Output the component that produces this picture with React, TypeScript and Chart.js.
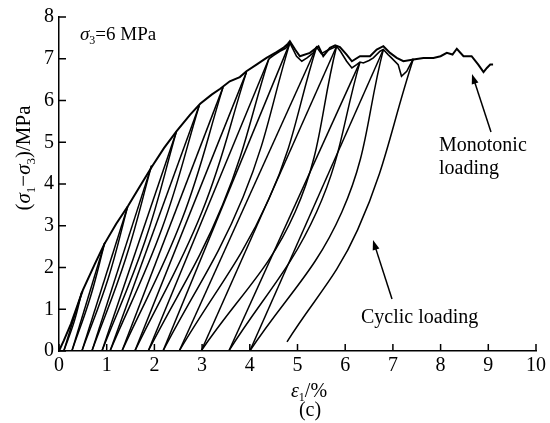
import React, { useEffect, useRef } from "react";
import { Chart, registerables } from "chart.js";

Chart.register(...registerables);

// x ticks and y ticks
const xTicks = [0, 1, 2, 3, 4, 5, 6, 7, 8, 9, 10];
const yTicks = [0, 1, 2, 3, 4, 5, 6, 7, 8];

// Monotonic loading curve (strain %, deviatoric stress MPa)
const monoStrain = [0, 0.1, 0.25, 0.5, 0.75, 0.95, 1.2, 1.45, 1.7, 1.95, 2.2, 2.47, 2.75, 2.96, 3.2, 3.38, 3.58, 3.79, 3.93, 4.14, 4.35, 4.56, 4.7, 4.8, 4.84, 4.95, 5.05, 5.26, 5.44, 5.54, 5.68, 5.79, 5.89, 6.03, 6.14, 6.31, 6.52, 6.66, 6.8, 6.94, 7.08, 7.22, 7.43, 7.64, 7.85, 8.0, 8.13, 8.25, 8.34, 8.48, 8.65, 8.79, 8.9, 8.97, 9.04, 9.1];
const monoStress = [0, 0.25, 0.65, 1.46, 2.08, 2.56, 3.05, 3.48, 3.95, 4.42, 4.86, 5.27, 5.66, 5.92, 6.14, 6.28, 6.46, 6.56, 6.7, 6.86, 7.02, 7.16, 7.26, 7.36, 7.42, 7.22, 7.06, 7.14, 7.3, 7.06, 7.26, 7.32, 7.28, 7.1, 6.94, 7.06, 7.06, 7.22, 7.3, 7.14, 7.02, 6.94, 6.98, 7.02, 7.02, 7.06, 7.14, 7.1, 7.24, 7.06, 7.06, 6.86, 6.68, 6.78, 6.86, 6.86];

// Cyclic loading envelope where it departs from the monotonic curve
const cycEnvStrain = [4.4, 4.5, 4.63, 4.75, 4.84, 4.98, 5.09, 5.2, 5.33, 5.4, 5.5, 5.62, 5.75, 5.82, 5.9, 6.03, 6.14, 6.24, 6.31, 6.38, 6.5, 6.59, 6.73, 6.8, 6.9, 6.97, 7.11, 7.18, 7.29, 7.43];
const cycEnvStress = [7.0, 7.08, 7.18, 7.25, 7.38, 7.06, 6.94, 7.02, 7.14, 7.28, 7.12, 7.2, 7.26, 7.3, 7.18, 6.94, 6.78, 6.86, 6.92, 6.9, 6.96, 7.02, 7.18, 7.22, 7.1, 7.02, 6.86, 6.58, 6.7, 7.0];

// Cycles: peak points, residual points, and a mid point on each unloading curve
const peakStrain = [0.48, 0.96, 1.44, 1.94, 2.46, 2.94, 3.44, 3.93, 4.4, 4.84, 5.4, 5.82, 6.31, 6.8, 7.43];
const peakStress = [1.42, 2.6, 3.46, 4.44, 5.25, 5.88, 6.32, 6.68, 7.0, 7.38, 7.28, 7.3, 6.92, 7.22, 7.0];
const residualStrain = [0.1, 0.27, 0.48, 0.69, 0.9, 1.07, 1.32, 1.59, 1.87, 2.18, 2.52, 2.98, 3.56, 4.0, 4.78];
const residualStress = [0, 0, 0, 0, 0, 0, 0, 0, 0, 0, 0, 0, 0, 0, 0.22];
const unloadMidStrain = [0.32, 0.66, 1.03, 1.4, 1.8, 2.16, 2.58, 3.0, 3.43, 3.86, 4.4, 4.95, 5.4, 5.93, 6.26];
const unloadMidStress = [0.71, 1.3, 1.73, 2.22, 2.62, 2.94, 3.16, 3.34, 3.5, 3.69, 3.64, 3.33, 3.33, 3.33, 2.9];

const FONT = '"Liberation Serif", "Times New Roman", serif';

type Part = { t: string; i?: boolean; s?: boolean };

function drawRich(ctx: CanvasRenderingContext2D, parts: Part[], x: number, y: number, size: number, align: "left" | "center") {
  const fontFor = (p: Part) => `${p.i ? "italic " : ""}${p.s ? Math.round(size * 0.62) : size}px ${FONT}`;
  let total = 0;
  for (const p of parts) {
    ctx.font = fontFor(p);
    total += ctx.measureText(p.t).width;
  }
  let cx = align === "center" ? x - total / 2 : x;
  ctx.textAlign = "left";
  ctx.textBaseline = "alphabetic";
  for (const p of parts) {
    ctx.font = fontFor(p);
    ctx.fillText(p.t, cx, y + (p.s ? size * 0.22 : 0));
    cx += ctx.measureText(p.t).width;
  }
}

function arrow(ctx: CanvasRenderingContext2D, x1: number, y1: number, x2: number, y2: number) {
  const ang = Math.atan2(y2 - y1, x2 - x1);
  const len = 10;
  const w = 3.5;
  ctx.beginPath();
  ctx.moveTo(x1, y1);
  ctx.lineTo(x2 - Math.cos(ang) * len * 0.8, y2 - Math.sin(ang) * len * 0.8);
  ctx.lineWidth = 1.5;
  ctx.stroke();
  ctx.beginPath();
  ctx.moveTo(x2, y2);
  ctx.lineTo(x2 - Math.cos(ang) * len - Math.sin(ang) * w, y2 - Math.sin(ang) * len + Math.cos(ang) * w);
  ctx.lineTo(x2 - Math.cos(ang) * len + Math.sin(ang) * w, y2 - Math.sin(ang) * len - Math.cos(ang) * w);
  ctx.closePath();
  ctx.fill();
}

const decorPlugin = {
  id: "decor",
  afterDraw(chart: any) {
    const ctx: CanvasRenderingContext2D = chart.ctx;
    const xs = chart.scales.x;
    const ys = chart.scales.y;
    const { left, bottom } = chart.chartArea;
    ctx.save();
    ctx.strokeStyle = "#000";
    ctx.fillStyle = "#000";
    ctx.lineWidth = 1.5;
    // inward ticks
    ctx.beginPath();
    for (const v of xTicks) {
      const px = xs.getPixelForValue(v);
      ctx.moveTo(px, bottom);
      ctx.lineTo(px, bottom - 7);
    }
    for (const v of yTicks) {
      const py = ys.getPixelForValue(v);
      ctx.moveTo(left, py);
      ctx.lineTo(left + 7, py);
    }
    ctx.stroke();

    // annotations
    drawRich(ctx, [{ t: "σ", i: true }, { t: "3", s: true }, { t: "=6 MPa" }], 80, 40, 19, "left");
    drawRich(ctx, [{ t: "Monotonic" }], 439, 151, 20, "left");
    drawRich(ctx, [{ t: "loading" }], 439, 174, 20, "left");
    drawRich(ctx, [{ t: "Cyclic loading" }], 361, 323, 20, "left");
    arrow(ctx, 491, 132, 472, 74);
    arrow(ctx, 392, 299, 373, 240);

    // axis titles
    drawRich(ctx, [{ t: "ε", i: true }, { t: "1", s: true }, { t: "/%" }], 309, 397, 20, "center");
    drawRich(ctx, [{ t: "(c)" }], 310, 416, 20, "center");
    ctx.translate(23, 158);
    ctx.rotate(-Math.PI / 2);
    drawRich(
      ctx,
      [{ t: "(" }, { t: "σ", i: true }, { t: "1", s: true }, { t: "−" }, { t: "σ", i: true }, { t: "3", s: true }, { t: ")/MPa" }],
      0,
      7,
      21,
      "center"
    );
    ctx.restore();
  },
};

export default function App() {
  const ref = useRef<HTMLCanvasElement | null>(null);
  useEffect(() => {
    if (!ref.current) return;
    const line = (pts: { x: number; y: number }[], width: number, tension: number) => ({
      data: pts,
      borderColor: "#000",
      backgroundColor: "#000",
      borderWidth: width,
      tension,
      pointRadius: 0,
      fill: false,
    });
    const datasets: any[] = [];
    datasets.push(line(monoStrain.map((x, i) => ({ x, y: monoStress[i] })), 2, 0));
    datasets.push(line(cycEnvStrain.map((x, i) => ({ x, y: cycEnvStress[i] })), 1.6, 0));
    peakStrain.forEach((ep, i) => {
      const peak = { x: ep, y: peakStress[i] };
      const res = { x: residualStrain[i], y: residualStress[i] };
      if (i < peakStrain.length - 1) datasets.push(line([res, peak], 1.5, 0));
      datasets.push(line([peak, { x: unloadMidStrain[i], y: unloadMidStress[i] }, res], 1.5, 0.4));
    });
    const tickFont = { family: FONT, size: 20 };
    const chart = new Chart(ref.current, {
      type: "line",
      data: { datasets },
      options: {
        animation: false,
        responsive: false,
        maintainAspectRatio: false,
        layout: { padding: { top: 17, right: 14, left: 0, bottom: 0 } },
        plugins: { legend: { display: false }, tooltip: { enabled: false } },
        elements: { point: { radius: 0 } },
        scales: {
          x: {
            type: "linear",
            min: 0,
            max: 10,
            ticks: { stepSize: 1, font: tickFont, color: "#000", padding: 3, maxRotation: 0 },
            grid: { drawOnChartArea: false, drawTicks: false },
            border: { color: "#000", width: 1.5 },
            afterFit: (s: any) => {
              s.height = 72;
            },
          },
          y: {
            type: "linear",
            min: 0,
            max: 8,
            ticks: { stepSize: 1, font: tickFont, color: "#000", padding: 5 },
            grid: { drawOnChartArea: false, drawTicks: false },
            border: { color: "#000", width: 1.5 },
            afterFit: (s: any) => {
              s.width = 59;
            },
          },
        },
      } as any,
      plugins: [decorPlugin],
    });
    return () => chart.destroy();
  }, []);
  return (
    <div style={{ position: "absolute", left: 0, top: 0, width: 550, height: 423, background: "#fff" }}>
      <canvas ref={ref} width={550} height={423} style={{ display: "block" }} />
    </div>
  );
}
